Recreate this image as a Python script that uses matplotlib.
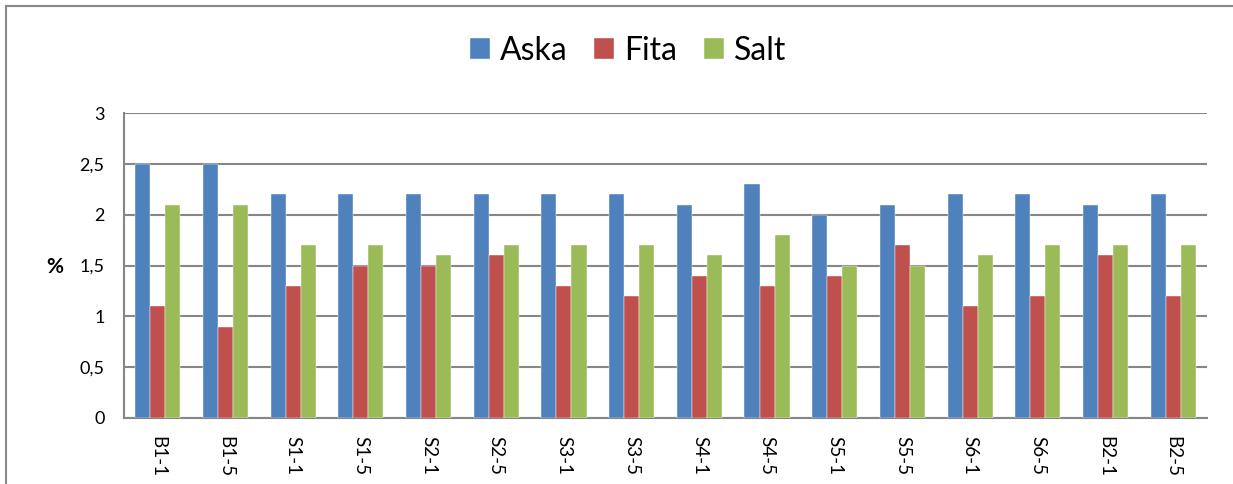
import numpy as np
import matplotlib
matplotlib.use("Agg")
from matplotlib import pyplot as plt
from matplotlib.lines import Line2D

plt.rcParams['font.family'] = ['Lato', 'DejaVu Sans']

# donnees
categories = ["B1-1", "B1-5", "S1-1", "S1-5", "S2-1", "S2-5", "S3-1", "S3-5",
              "S4-1", "S4-5", "S5-1", "S5-5", "S6-1", "S6-5", "B2-1", "B2-5"]
aska = [2.5, 2.5, 2.2, 2.2, 2.2, 2.2, 2.2, 2.2, 2.1, 2.3, 2.0, 2.1, 2.2, 2.2, 2.1, 2.2]
fita = [1.1, 0.9, 1.3, 1.5, 1.5, 1.6, 1.3, 1.2, 1.4, 1.3, 1.4, 1.7, 1.1, 1.2, 1.6, 1.2]
salt = [2.1, 2.1, 1.7, 1.7, 1.6, 1.7, 1.7, 1.7, 1.6, 1.8, 1.5, 1.5, 1.6, 1.7, 1.7, 1.7]
series_names = ["Aska", "Fita", "Salt"]
couleurs = ["#4F81BD", "#C0504D", "#9BBB59"]

W, H = 1233, 484
fig = plt.figure(figsize=(W / 100, H / 100), dpi=100)
ax = fig.add_axes([124 / W, 1 - 418 / H, (1207 - 124) / W, (418 - 113) / H])

x = np.arange(len(categories))
largeur = 0.222
for i, (vals, nom, c) in enumerate(zip([aska, fita, salt], series_names, couleurs)):
    ax.bar(x + (i - 1) * largeur, vals, largeur, color=c, label=nom,
           edgecolor="white", linewidth=0.3, zorder=3)

ax.set_xlim(-0.5, len(categories) - 0.5)
ax.set_ylim(0, 3)
ax.set_yticks([0, 0.5, 1, 1.5, 2, 2.5, 3])
ax.set_yticklabels(["0", "0,5", "1", "1,5", "2", "2,5", "3"], fontsize=13)
ax.set_xticks(x)
ax.set_xticklabels(categories, rotation=-90, fontsize=13.5)
ax.tick_params(length=0, pad=14)
ax.tick_params(axis='x', pad=13)
ax.grid(axis='y', color="#868686", linewidth=1.5, zorder=0)
for s in ["top", "right"]:
    ax.spines[s].set_visible(False)
for s in ["left", "bottom"]:
    ax.spines[s].set_color("#868686")
    ax.spines[s].set_linewidth(1.5)

fig.text(55 / W, 1 - 267 / H, "%", fontsize=15, fontweight="bold", ha="center", va="center")

fig.legend(loc="center", bbox_to_anchor=(628 / W, 1 - 51 / H), ncol=3, frameon=False,
           fontsize=23, handlelength=0.63, handleheight=0.63, handletextpad=0.3,
           columnspacing=0.85)

# cadre du graphique
fig.add_artist(Line2D([6 / W, 6 / W], [0, 1 - 6 / H], color="#888888", linewidth=1.5))
fig.add_artist(Line2D([6 / W, 1], [1 - 6 / H, 1 - 6 / H], color="#888888", linewidth=1.5))

fig.savefig("out.png", dpi=100)
